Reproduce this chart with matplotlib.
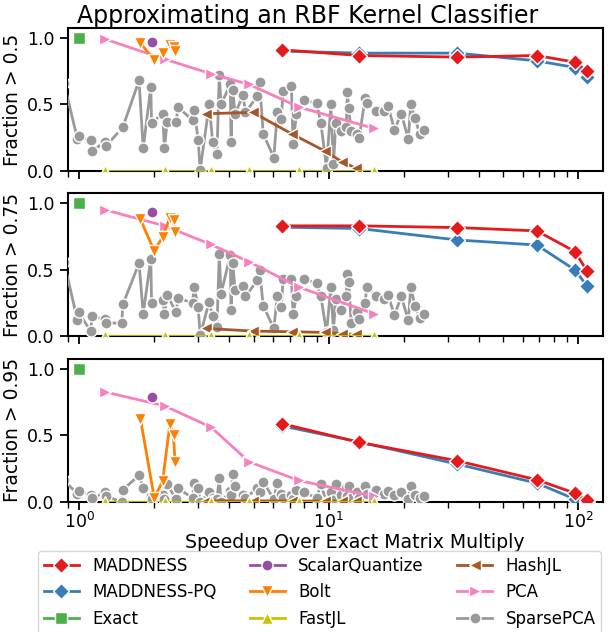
import matplotlib
matplotlib.use("Agg")
import matplotlib.pyplot as plt

# ---- data ----
thresholds = ["0.5", "0.75", "0.95"]

maddness_x = [6.5, 13.3, 32.8, 68.4, 97.2, 108.7]
maddness_y = [
    [0.91, 0.867, 0.855, 0.867, 0.817, 0.752],
    [0.83, 0.83, 0.817, 0.792, 0.637, 0.49],
    [0.587, 0.446, 0.308, 0.165, 0.065, 0.01],
]
maddness_pq_y = [
    [0.90, 0.885, 0.885, 0.827, 0.777, 0.705],
    [0.82, 0.81, 0.724, 0.686, 0.499, 0.378],
    [0.57, 0.449, 0.283, 0.14, 0.02, 0.0],
]

exact_x = [1.0]
exact_y = [[1.0], [1.0], [1.0]]

sq_x = [1.95]
sq_y = [[0.972], [0.935], [0.784]]

bolt_x = [1.76, 2.0, 2.16, 2.31, 2.39, 2.42]
bolt_y = [
    [0.96, 0.835, 0.885, 0.947, 0.93, 0.90],
    [0.88, 0.64, 0.747, 0.892, 0.875, 0.787],
    [0.624, 0.03, 0.153, 0.584, 0.504, 0.296],
]

pca_x = [1.27, 2.20, 3.38, 4.8, 7.6, 15.2]
pca_y = [
    [0.99, 0.84, 0.73, 0.65, 0.48, 0.32],
    [0.95, 0.83, 0.69, 0.56, 0.37, 0.17],
    [0.825, 0.72, 0.56, 0.30, 0.16, 0.04],
]
fastjl_y = [[0.0] * 6, [0.0] * 6, [0.0] * 6]

hashjl_x = [3.22, 4.97, 7.1, 9.66, 11.3, 12.9]
hashjl_y = [
    [0.43, 0.44, 0.28, 0.15, 0.07, 0.02],
    [0.06, 0.04, 0.035, 0.03, 0.02, 0.015],
    [0.008, 0.007, 0.006, 0.005, 0.004, 0.003],
]

sparse_x = [0.870, 0.984, 0.995, 1.111, 1.128, 1.269, 1.285, 1.481, 1.497,
            1.738, 1.806, 1.937, 1.951, 2.161, 2.197, 2.253, 2.449, 2.491,
            2.848, 2.890, 3.000, 3.056, 3.322, 3.428, 3.568, 3.645, 3.703,
            4.036, 4.063, 4.128, 4.217, 4.543, 4.641, 5.173, 5.284, 5.470,
            6.030, 6.229, 6.465, 6.567, 7.093, 7.207, 7.430, 7.980, 8.946,
            9.311, 9.815, 10.21, 10.45, 10.70, 11.23, 11.77, 11.90, 12.04,
            12.32, 12.97, 13.27, 14.01, 14.23, 15.54, 16.67, 17.30, 18.37,
            19.56, 20.88, 21.35, 22.18, 23.17, 24.04]
sparse_y = [
    [0.66, 0.24, 0.26, 0.23, 0.15, 0.22, 0.19, 0.32, 0.33, 0.68, 0.17, 0.63,
     0.36, 0.43, 0.17, 0.37, 0.37, 0.48, 0.38, 0.46, 0.23, 0.01, 0.50, 0.22,
     0.13, 0.72, 0.50, 0.65, 0.22, 0.61, 0.43, 0.57, 0.44, 0.56, 0.67, 0.28,
     0.10, 0.44, 0.39, 0.60, 0.64, 0.20, 0.43, 0.53, 0.51, 0.36, 0.02, 0.50,
     0.05, 0.36, 0.30, 0.33, 0.59, 0.47, 0.30, 0.28, 0.25, 0.55, 0.51, 0.45,
     0.45, 0.49, 0.31, 0.43, 0.24, 0.50, 0.40, 0.28, 0.31],
    [0.56, 0.12, 0.18, 0.04, 0.15, 0.13, 0.10, 0.10, 0.24, 0.55, 0.17, 0.58,
     0.25, 0.27, 0.17, 0.31, 0.18, 0.29, 0.25, 0.37, 0.22, 0.01, 0.26, 0.15,
     0.07, 0.62, 0.32, 0.61, 0.20, 0.55, 0.35, 0.38, 0.30, 0.42, 0.50, 0.23,
     0.06, 0.30, 0.22, 0.43, 0.43, 0.17, 0.30, 0.43, 0.40, 0.30, 0.03, 0.37,
     0.05, 0.28, 0.20, 0.30, 0.47, 0.41, 0.10, 0.18, 0.13, 0.25, 0.37, 0.30,
     0.28, 0.31, 0.16, 0.30, 0.12, 0.37, 0.23, 0.14, 0.17],
    [0.16, 0.06, 0.08, 0.05, 0.03, 0.07, 0.04, 0.00, 0.09, 0.20, 0.10, 0.04,
     0.02, 0.05, 0.02, 0.13, 0.02, 0.10, 0.03, 0.14, 0.10, 0.00, 0.07, 0.03,
     0.02, 0.18, 0.00, 0.08, 0.05, 0.21, 0.12, 0.05, 0.03, 0.10, 0.07, 0.15,
     0.02, 0.14, 0.06, 0.03, 0.05, 0.02, 0.09, 0.07, 0.03, 0.13, 0.00, 0.07,
     0.01, 0.13, 0.05, 0.10, 0.04, 0.12, 0.03, 0.07, 0.03, 0.12, 0.06, 0.09,
     0.06, 0.08, 0.05, 0.07, 0.02, 0.12, 0.05, 0.03, 0.04],
]

# (label, x, ys, color, marker) in legend order
series = [
    ("MADDNESS", maddness_x, maddness_y, "#e41a1c", "D"),
    ("MADDNESS-PQ", maddness_x, maddness_pq_y, "#377eb8", "D"),
    ("Exact", exact_x, exact_y, "#4daf4a", "s"),
    ("ScalarQuantize", sq_x, sq_y, "#984ea3", "o"),
    ("Bolt", bolt_x, bolt_y, "#ff7f00", "v"),
    ("FastJL", pca_x, fastjl_y, "#c8c400", "^"),
    ("HashJL", hashjl_x, hashjl_y, "#a65628", "<"),
    ("PCA", pca_x, pca_y, "#f781bf", ">"),
    ("SparsePCA", sparse_x, sparse_y, "#999999", "o"),
]
# draw grey first, red last
draw_order = [8, 7, 6, 5, 4, 3, 2, 1, 0]

fig, axes = plt.subplots(3, 1, figsize=(6.16, 6.32), dpi=100, sharex=True)
fig.subplots_adjust(left=0.110, right=0.979, top=0.956, bottom=0.206,
                    hspace=0.155)

handles = [None] * len(series)
for p, ax in enumerate(axes):
    for i in draw_order:
        label, xs, ys, color, marker = series[i]
        h, = ax.plot(xs, ys[p], color=color, marker=marker, lw=2,
                     markersize=8 if marker != "D" else 8.5,
                     markeredgecolor="white", markeredgewidth=1,
                     label=label, zorder=3 + (9 - i) * 0.01)
        handles[i] = h
    ax.set_xscale("log")
    ax.set_xlim(0.9, 126)
    ax.set_ylim(0, 1.075)
    ax.set_yticks([0.0, 0.5, 1.0])
    ax.set_ylabel(f"Fraction > {thresholds[p]}", fontsize=13.5)
    ax.tick_params(axis="both", which="major", labelsize=12.5, length=6,
                   width=1.3, direction="out")
    ax.tick_params(axis="x", which="major", pad=1.5)
    ax.tick_params(axis="x", which="minor", length=4, width=1.0)
    for sp in ax.spines.values():
        sp.set_linewidth(1.5)
        sp.set_color("black")

axes[-1].set_xlabel("Speedup Over Exact Matrix Multiply", fontsize=13.6)
axes[-1].xaxis.set_label_coords(0.536, -0.218)
fig.suptitle("Approximating an RBF Kernel Classifier", fontsize=17,
             y=0.994)

fig.legend(handles, [s[0] for s in series], loc="upper center",
           bbox_to_anchor=(0.519, 0.128), ncol=3, fontsize=12,
           columnspacing=2.0, handlelength=2.1, handletextpad=0.8,
           labelspacing=0.5, borderpad=0.35, borderaxespad=0)

fig.savefig("out.png", dpi=100)
